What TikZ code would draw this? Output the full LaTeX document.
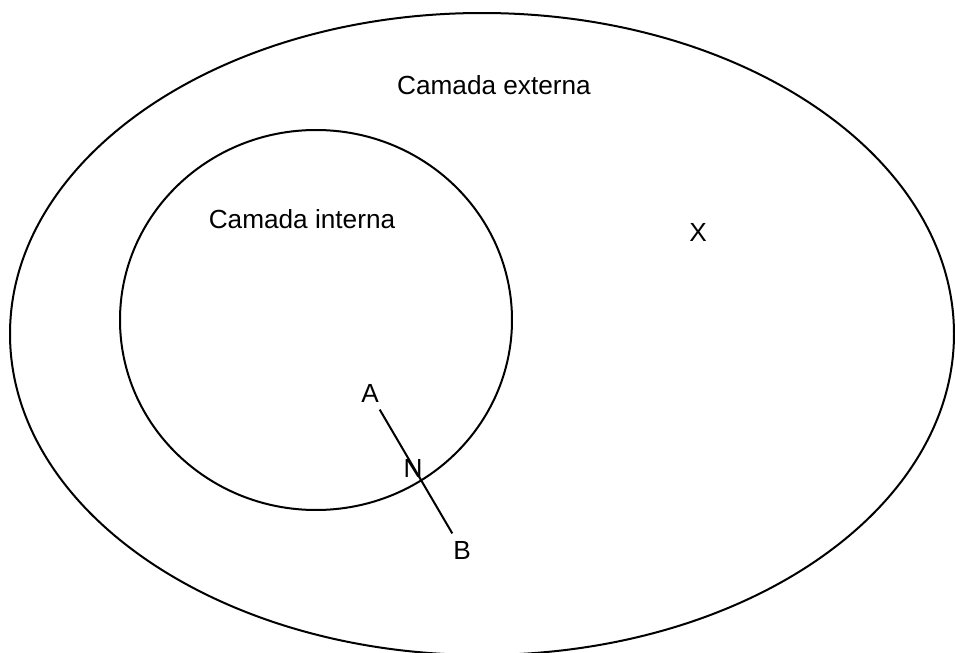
\documentclass[tikz,border=0pt]{standalone}
\usepackage{fontspec}
\setsansfont{Liberation Sans}
\usepackage{tikz}
\usetikzlibrary{positioning}

\begin{document}
\begin{tikzpicture}[x=0.5pt,y=-0.5pt,line width=1pt,
  lbl/.style={font=\sffamily\fontsize{13.1}{15}\selectfont,inner sep=3.3pt},
  layer/.style={draw=black,line width=1pt}]
\useasboundingbox (0,0) rectangle (955,653);
% camadas
\draw[layer] (482,334) ellipse [x radius=472,y radius=321];
\draw[layer] (316,320) ellipse [x radius=196,y radius=190];
\node[lbl](ext) at (494,85){Camada externa};
\node[lbl](int) at (302,219){Camada interna};
\node[lbl](x) at (698,232){X};
% pontos
\node[lbl](a) at (370,393){A};
\node[lbl](b) at (462,550){B};
\node[lbl](n) at (413,468){N};
\draw[layer] (a) -- (b);
\end{tikzpicture}
\end{document}
